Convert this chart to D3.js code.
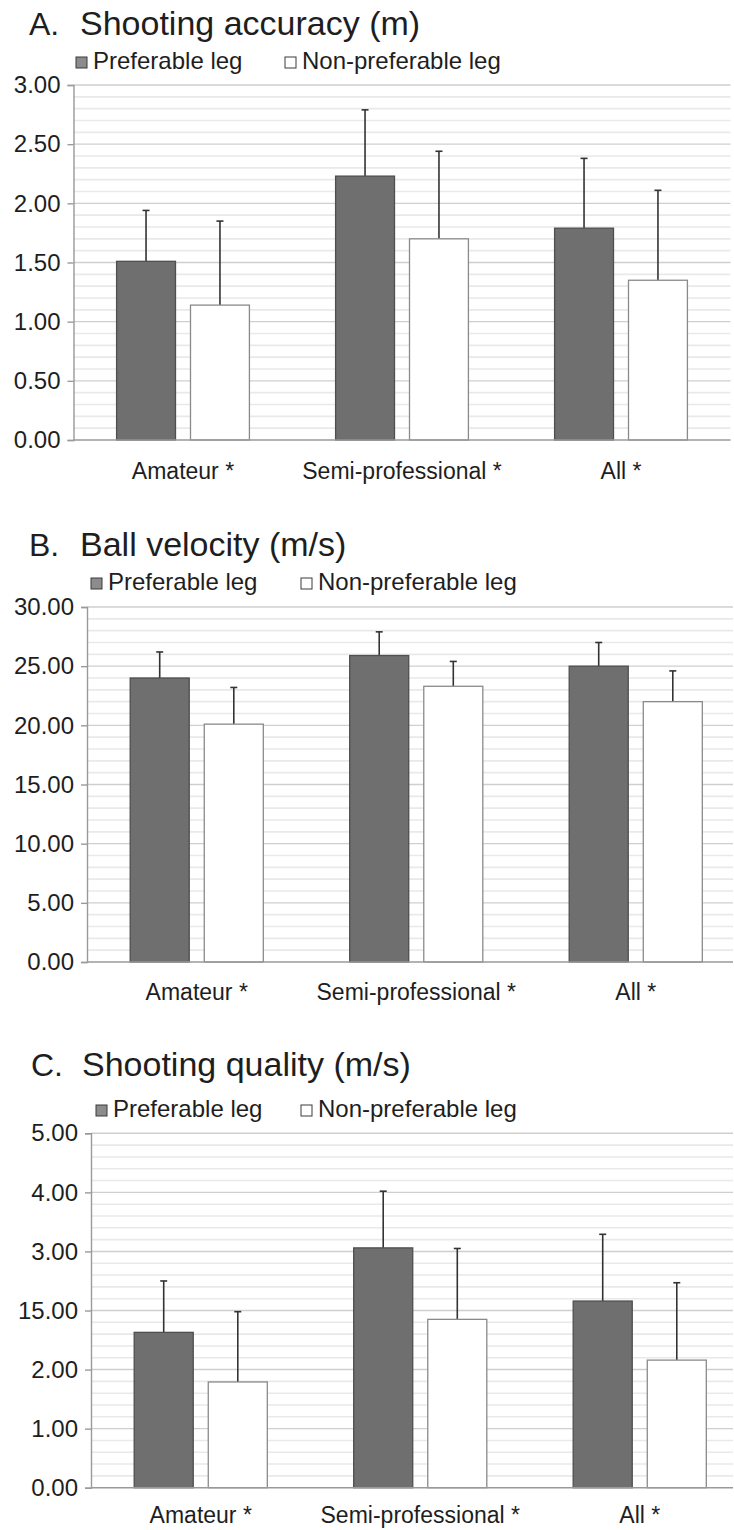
<!DOCTYPE html>
<html>
<head>
<meta charset="utf-8">
<script src="https://cdn.jsdelivr.net/npm/d3@7"></script>
<style>
  html, body { margin: 0; padding: 0; background: #fff; }
  svg { display: block; }
  text { font-family: "Liberation Sans", Arial, sans-serif; fill: #1e1e1e; }
</style>
</head>
<body>
<svg id="chart" width="734" height="1530"></svg>
<script>
// ---------- data ----------
const categories = ["Amateur *", "Semi-professional *", "All *"];
const series = ["Preferable leg", "Non-preferable leg"];

// A. Shooting accuracy (m)
const accuracyPref = [1.51, 2.23, 1.79];
const accuracyPrefSD = [0.43, 0.56, 0.59];
const accuracyNonPref = [1.14, 1.70, 1.35];
const accuracyNonPrefSD = [0.71, 0.74, 0.76];
const accuracyTicks = [0, 0.5, 1.0, 1.5, 2.0, 2.5, 3.0];
const accuracyTickLabels = ["0.00", "0.50", "1.00", "1.50", "2.00", "2.50", "3.00"];

// B. Ball velocity (m/s)
const velocityPref = [24.0, 25.9, 25.0];
const velocityPrefSD = [2.2, 2.0, 2.0];
const velocityNonPref = [20.1, 23.3, 22.0];
const velocityNonPrefSD = [3.1, 2.1, 2.6];
const velocityTicks = [0, 5, 10, 15, 20, 25, 30];
const velocityTickLabels = ["0.00", "5.00", "10.00", "15.00", "20.00", "25.00", "30.00"];

// C. Shooting quality (m/s) — values in axis units (one unit per labelled tick, labels as printed)
const qualityPref = [2.63, 4.06, 3.16];
const qualityPrefSD = [0.87, 0.96, 1.13];
const qualityNonPref = [1.79, 2.85, 2.16];
const qualityNonPrefSD = [1.19, 1.20, 1.31];
const qualityTicks = [0, 1, 2, 3, 4, 5, 6];
const qualityTickLabels = ["0.00", "1.00", "2.00", "15.00", "3.00", "4.00", "5.00"];

// ---------- layout ----------
const panels = [
  { letter: "A.", title: "Shooting accuracy (m)", pref: accuracyPref, prefSD: accuracyPrefSD,
    non: accuracyNonPref, nonSD: accuracyNonPrefSD, ticks: accuracyTicks, labels: accuracyTickLabels,
    max: 3.0, minorPerMajor: 5,
    left: 73.5, width: 657, top: 85, bottom: 440, titleY: 35, legendY: 69,
    letterX: 29, titleX: 80, legX1: 76, legX2: 285, catY: 479 },
  { letter: "B.", title: "Ball velocity (m/s)", pref: velocityPref, prefSD: velocityPrefSD,
    non: velocityNonPref, nonSD: velocityNonPrefSD, ticks: velocityTicks, labels: velocityTickLabels,
    max: 30, minorPerMajor: 5,
    left: 87, width: 658.5, top: 607, bottom: 962, titleY: 556, legendY: 590,
    letterX: 29, titleX: 80, legX1: 91, legX2: 301, catY: 1000 },
  { letter: "C.", title: "Shooting quality (m/s)", pref: qualityPref, prefSD: qualityPrefSD,
    non: qualityNonPref, nonSD: qualityNonPrefSD, ticks: qualityTicks, labels: qualityTickLabels,
    max: 6, minorPerMajor: 5,
    left: 91, width: 658.5, top: 1133.3, bottom: 1487.7, titleY: 1076, legendY: 1117,
    letterX: 31, titleX: 82, legX1: 96, legX2: 301, catY: 1523 }
];

const svg = d3.select("#chart");
const prefFill = "#6f6f6f", prefStroke = "#4f4f4f";
const nonFill = "#ffffff", nonStroke = "#8a8a8a";

panels.forEach(p => {
  const g = svg.append("g");

  // title
  g.append("text").attr("x", p.letterX).attr("y", p.titleY)
    .style("font-size", "32px").text(p.letter);
  g.append("text").attr("x", p.titleX).attr("y", p.titleY)
    .style("font-size", "34px").text(p.title);

  // legend
  const legItems = [
    { name: series[0], x: p.legX1, fill: "#8c8c8c", stroke: "#3a3a3a" },
    { name: series[1], x: p.legX2, fill: "#ffffff", stroke: "#3a3a3a" }
  ];
  legItems.forEach(it => {
    g.append("rect").attr("x", it.x).attr("y", p.legendY - 12)
      .attr("width", 11).attr("height", 11)
      .attr("fill", it.fill).attr("stroke", it.stroke).attr("stroke-width", 1);
    g.append("text").attr("x", it.x + 17).attr("y", p.legendY)
      .style("font-size", "24px").text(it.name);
  });

  // scales
  const y = d3.scaleLinear().domain([0, p.max]).range([p.bottom, p.top]);
  const x0 = d3.scaleBand().domain(categories)
    .range([p.left, p.left + p.width]).paddingInner(0.3935).paddingOuter(0.3935 / 2);
  const x1 = d3.scaleBand().domain(series).range([0, x0.bandwidth()]).paddingInner(0.203);

  const right = Math.min(p.left + p.width, 733);

  // minor grid
  const step = p.ticks[1] - p.ticks[0];
  const minor = [];
  for (let i = 0; i < p.ticks.length - 1; i++) {
    for (let k = 1; k < p.minorPerMajor; k++) minor.push(p.ticks[i] + step * k / p.minorPerMajor);
  }
  g.append("g").selectAll("line").data(minor).join("line")
    .attr("x1", p.left).attr("x2", right)
    .attr("y1", d => y(d)).attr("y2", d => y(d))
    .attr("stroke", "#e9e9e9").attr("stroke-width", 1.6);

  // major grid
  g.append("g").selectAll("line").data(p.ticks.slice(1)).join("line")
    .attr("x1", p.left).attr("x2", right)
    .attr("y1", d => y(d)).attr("y2", d => y(d))
    .attr("stroke", "#cfcfcf").attr("stroke-width", 1.4);

  // y axis
  const yAxis = d3.axisLeft(y).tickValues(p.ticks)
    .tickFormat((d, i) => p.labels[i]).tickSize(6).tickPadding(7);
  const ax = g.append("g").attr("transform", `translate(${p.left},0)`).call(yAxis);
  ax.select(".domain").attr("stroke", "#9a9a9a").attr("stroke-width", 1.4);
  ax.selectAll(".tick line").attr("stroke", "#9a9a9a").attr("stroke-width", 1.4);
  ax.selectAll(".tick text").style("font-size", "24px")
    .style("font-family", "'Liberation Sans', Arial, sans-serif").attr("fill", "#1e1e1e");

  // bars
  const rows = categories.map((c, i) => ({
    cat: c,
    vals: [
      { s: series[0], v: p.pref[i], sd: p.prefSD[i] },
      { s: series[1], v: p.non[i], sd: p.nonSD[i] }
    ]
  }));
  const grp = g.append("g").selectAll("g").data(rows).join("g")
    .attr("transform", d => `translate(${x0(d.cat)},0)`);

  // error bars (upper only)
  grp.selectAll("line.err").data(d => d.vals).join("line").attr("class", "err")
    .attr("x1", d => x1(d.s) + x1.bandwidth() / 2).attr("x2", d => x1(d.s) + x1.bandwidth() / 2)
    .attr("y1", d => y(d.v)).attr("y2", d => y(d.v + d.sd))
    .attr("stroke", "#333").attr("stroke-width", 1.6);
  grp.selectAll("line.cap").data(d => d.vals).join("line").attr("class", "cap")
    .attr("x1", d => x1(d.s) + x1.bandwidth() / 2 - 3.5).attr("x2", d => x1(d.s) + x1.bandwidth() / 2 + 3.5)
    .attr("y1", d => y(d.v + d.sd)).attr("y2", d => y(d.v + d.sd))
    .attr("stroke", "#333").attr("stroke-width", 1.6);

  grp.selectAll("rect").data(d => d.vals).join("rect")
    .attr("x", d => x1(d.s)).attr("width", x1.bandwidth())
    .attr("y", d => y(d.v)).attr("height", d => y(0) - y(d.v))
    .attr("fill", d => d.s === series[0] ? prefFill : nonFill)
    .attr("stroke", d => d.s === series[0] ? prefStroke : nonStroke)
    .attr("stroke-width", 1.3);

  // x baseline
  g.append("line").attr("x1", p.left).attr("x2", right)
    .attr("y1", y(0)).attr("y2", y(0))
    .attr("stroke", "#9a9a9a").attr("stroke-width", 1.4);

  // category labels
  g.append("g").selectAll("text").data(categories).join("text")
    .attr("x", d => x0(d) + x0.bandwidth() / 2).attr("y", p.catY)
    .attr("text-anchor", "middle").style("font-size", "23px").text(d => d);
});
</script>
</body>
</html>
